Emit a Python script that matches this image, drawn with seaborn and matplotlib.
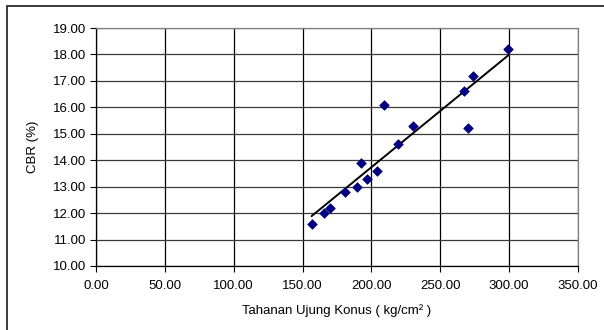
import pandas as pd
import seaborn as sns
import matplotlib.pyplot as plt
from matplotlib.patches import Rectangle

# --- DATA ---
tahanan = [156.5, 165.4, 170.2, 181.0, 189.5, 192.5, 196.5, 204.0,
           209.4, 219.2, 230.0, 267.5, 270.0, 273.7, 299.2]
cbr = [11.6, 12.0, 12.2, 12.8, 13.0, 13.9, 13.3, 13.6,
       16.1, 14.6, 15.3, 16.6, 15.2, 17.2, 18.2]
x_ticks = [0, 50, 100, 150, 200, 250, 300, 350]
y_ticks = [10, 11, 12, 13, 14, 15, 16, 17, 18, 19]

df = pd.DataFrame({"tahanan": tahanan, "cbr": cbr})

sns.set_style("white")
plt.rcParams["font.family"] = ["Liberation Sans", "DejaVu Sans"]
plt.rcParams["text.color"] = "black"
plt.rcParams["axes.labelcolor"] = "black"
plt.rcParams["xtick.color"] = "black"
plt.rcParams["ytick.color"] = "black"

fig = plt.figure(figsize=(6.04, 3.30), dpi=100)
ax = fig.add_axes([96 / 604, 1 - 266 / 330, 482 / 604, 238 / 330])

# outer chart frame (Excel style)
fig.patches.append(Rectangle((7 / 604, -0.05), 1.2, 1 - 6 / 330 + 0.05,
                             transform=fig.transFigure, fill=False,
                             edgecolor="#1a1a1a", linewidth=1.2))

# trendline + points
sns.regplot(x="tahanan", y="cbr", data=df, ax=ax, ci=None, scatter=False,
            line_kws={"color": "black", "linewidth": 1.4})
sns.scatterplot(x="tahanan", y="cbr", data=df, ax=ax, marker="D", s=24,
                color="#000080", edgecolor="#000080", linewidth=0.5, zorder=4)

ax.set_xlim(0, 350)
ax.set_ylim(10, 19)
ax.set_xticks(x_ticks)
ax.set_yticks(y_ticks)
ax.set_xticklabels([f"{v:.2f}" for v in x_ticks], fontsize=9.5)
ax.set_yticklabels([f"{v:.2f}" for v in y_ticks], fontsize=9.5)

ax.xaxis.grid(True, color="black", linewidth=0.9)
ax.yaxis.grid(True, color="#3a3a3a", linewidth=0.9)
ax.set_axisbelow(True)

ax.tick_params(axis="both", direction="out", length=4, width=0.8,
               color="black", bottom=True, left=True)
ax.tick_params(axis="x", pad=6)
ax.tick_params(axis="y", pad=3)
for side in ["left", "bottom"]:
    ax.spines[side].set_color("black")
    ax.spines[side].set_linewidth(0.9)
for side in ["top", "right"]:
    ax.spines[side].set_color("#808080")
    ax.spines[side].set_linewidth(0.9)

ax.set_xlabel("Tahanan Ujung Konus ( kg/cm² )", fontsize=9.5, labelpad=9)
ax.set_ylabel("CBR (%)", fontsize=9.5, labelpad=10)

fig.savefig("out.png", dpi=100)
